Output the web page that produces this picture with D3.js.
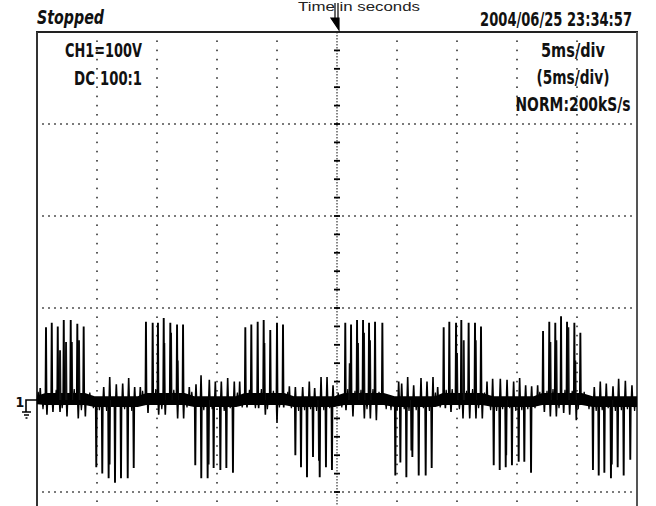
<!DOCTYPE html>
<html lang="en">
<head>
<meta charset="UTF-8">
<title>Scope capture</title>
<script src="https://d3js.org/d3.v7.min.js"></script>
<style>
    body { margin: 0; background: #fff; }
    .scope { font-family: "DejaVu Sans Condensed", "Liberation Sans Narrow", sans-serif; font-weight: bold; fill: #111; }
    .title { font-family: "Liberation Sans", Arial, sans-serif; fill: #222; }
</style>
</head>
<body>
<svg id="scope"></svg>
<script>
    const width = 656;
    const height = 506;

    // screen texts
    const headerLeft = "Stopped";
    const headerRight = "2004/06/25 23:34:57";
    const axisTitle = "Time in seconds";
    const leftInfo = ["CH1=100V", "DC", "100:1"];
    const rightInfo = ["5ms/div", "(5ms/div)", "NORM:200kS/s"];

    // grid divisions (ms across, volts down)
    const timeDivs = [-20, -15, -10, -5, 5, 10, 15, 20];
    const voltDivs = [300, 200, 100, -100];

    // big positive spikes (ms, V)
    const posT = [-24.25, -23.77, -23.27, -22.77, -22.19, -21.64, -21.11,
        -15.92, -15.36, -14.92, -14.44, -13.89, -13.33, -12.83,
        -7.64, -7.14, -6.61, -6.11, -5.56, -5.0, -4.5,
        0.69, 1.17, 1.67, 2.17, 2.67, 3.17, 3.78,
        8.89, 9.36, 9.92, 10.36, 10.97, 11.5, 12.0,
        17.17, 17.69, 18.19, 18.67, 19.17, 19.78, 20.28];
    const posV = [79, 84, 80, 87, 87, 83, 80,
        85, 84, 84, 89, 84, 82, 82,
        79, 82, 85, 87, 76, 84, 82,
        84, 82, 87, 87, 84, 85, 84,
        79, 85, 84, 87, 84, 84, 80,
        75, 85, 84, 91, 85, 84, 73];

    // big negative spikes
    const negT = [-20.06, -19.56, -19.03, -18.5, -18.0, -17.44, -16.94,
        -11.81, -11.31, -10.78, -10.28, -9.72, -9.22, -8.67,
        -3.47, -3.0, -2.5, -2.0, -1.44, -0.92, -0.42,
        4.86, 5.28, 5.78, 6.28, 6.81, 7.39, 7.89,
        13.06, 13.56, 14.06, 14.58, 15.14, 15.61, 16.17,
        21.33, 21.81, 22.28, 22.83, 23.39, 23.89, 24.44];
    const negV = [-73, -80, -85, -90, -85, -85, -74,
        -71, -85, -85, -74, -76, -74, -79,
        -60, -73, -84, -62, -84, -73, -76,
        -82, -68, -84, -62, -82, -82, -74,
        -71, -76, -73, -71, -67, -67, -79,
        -76, -82, -79, -85, -73, -82, -65];

    // partial (doubled) spikes next to the big ones
    const echoT = [-23.08, -22.58, -22.1, -21.5, -14.39, -13.83, -13.28, -6.05,
        1.06, 1.75, 2.25, 2.75, 10.0, 10.56, 11.56, 17.78, 18.28, 19.28, 19.86,
        -18.95, -10.7, -1.5, 6.2, 14.1, 22.9];
    const echoV = [54, 63, 63, 65, 62, 73, 43, 62,
        40, 62, 73, 65, 51, 65, 65, 63, 65, 79, 43,
        -70, -70, -66, -55, -60, -70];

    // small counter spikes
    const smallT = [-24.17, -23.67, -23.08, -22.5, -21.56, -20.97,
        -15.75, -14.86, -14.31, -13.28, -12.78,
        -7.5, -6.53, -5.97, -5.0, -4.44,
        0.75, 1.33, 2.28, 2.78, 3.28,
        9.03, 9.5, 10.5, 11.06, 11.58, 12.11,
        17.28, 17.78, 18.28, 18.89, 19.39, 19.94,
        -24.73,
        -19.44, -18.94, -18.39, -17.86, -17.36, -16.86, -16.39,
        -12.31, -11.75, -11.33, -10.64, -10.14, -9.64, -9.11, -8.56, -8.11,
        -3.97, -3.47, -2.86, -2.31, -1.86, -1.33, -0.83, -0.33,
        5.14, 5.39, 5.89, 6.39, 7.0, 7.5, 8.0, 8.39,
        12.5, 12.97, 13.61, 14.17, 14.72, 15.22, 15.72, 16.22, 16.72,
        21.44, 21.94, 22.44, 23.0, 23.47, 24.03, 24.58];
    const smallV = [-16, -13, -13, -18, -20, -18,
        -14, -16, -16, -20, -20,
        -8, -9, -16, -25, -8,
        -11, -18, -20, -20, -22,
        -9, -13, -20, -20, -20, -20,
        -13, -18, -18, -14, -16, -22,
        13,
        14, 25, 17, 18, 24, 14, 14,
        14, 17, 27, 22, 20, 20, 24, 20, 20,
        15, 14, 14, 20, 13, 25, 25, 16,
        20, 18, 25, 16, 24, 20, 25, 14,
        20, 23, 23, 22, 20, 24, 16, 15, 16,
        14, 20, 18, 15, 23, 21, 16];

    // tiny hairs on the noise band
    const fuzzT = [-24.9, -24.5, -23.4, -22.9, -21.9, -21.3, -20.6, -20.3, -19.8, -19.2, -17.7, -17.1,
        -16.2, -15.1, -14.6, -13.6, -12.5, -12.1, -11.1, -10.4, -9.4, -8.9, -8.3, -7.9,
        -7.3, -6.8, -6.3, -5.8, -5.3, -4.8, -4.1, -3.8, -3.2, -2.7, -2.2, -1.7, -1.1, -0.6,
        0.1, 0.4, 0.9, 1.5, 2.0, 2.5, 3.0, 3.5, 4.1, 4.5, 5.0, 5.6, 6.0, 6.6, 7.2, 7.7, 8.2, 8.6,
        9.1, 9.6, 10.2, 10.8, 11.3, 11.8, 12.3, 12.8, 13.3, 13.8, 14.4, 14.9, 15.4, 15.9, 16.5, 16.9,
        17.5, 18.0, 18.5, 19.0, 19.6, 20.1, 20.6, 21.0, 21.6, 22.1, 22.6, 23.2, 23.7, 24.2, 24.8];
    const fuzzV = [9, -10, 11, -9, 12, -11, 8, -9, -11, -12, -10, -12,
        10, 12, -10, 11, -8, 9, -11, -10, -12, -9, 8, -8,
        11, -9, 12, -10, 10, -8, 9, -9, -12, -11, -10, -12, -11, -9,
        8, -8, 12, 10, 11, -10, 12, 9, -10, -11, -12, -10, -12, -11, -9, -12, 8, -8,
        11, 12, -10, 10, 12, -9, 8, -11, -12, -10, -9, -12, -11, -10, -9, 9,
        10, 12, -9, 11, 10, -10, 9, -10, -12, -11, -9, -12, -11, -10, -12];

    // thick noise band around ground
    const bandT = [-25, -24.3, -21, -20.2, -16.6, -15.9, -12.7, -11.9, -8.4, -7.7, -4.4, -3.6,
        -0.2, 0.6, 3.9, 4.8, 8.2, 8.8, 12.1, 13.0, 16.4, 17.1, 20.4, 21.3, 24.7, 25];
    const bandHi = [4.5, 7.5, 7.5, 4, 4, 7.5, 7.5, 4, 4, 7.5, 7.5, 4, 4, 7.5, 7.5, 4, 4, 7.5, 7.5, 4, 4, 7.5, 7.5, 4, 4, 4];
    const bandLo = [-4.5, -5.5, -5.5, -7.5, -7.5, -5.5, -5.5, -7.5, -7.5, -5.5, -5.5, -7.5, -7.5, -5.5, -5.5, -7.5, -7.5, -5.5, -5.5, -7.5, -7.5, -5.5, -5.5, -7.5, -7.5, -7.5];

    const svg = d3.select("#scope")
        .attr("width", width)
        .attr("height", height)
        .style("display", "block");

    const x = d3.scaleLinear().domain([-25, 25]).range([37, 637]);
    const y = d3.scaleLinear().domain([-400, 400]).range([768, 32]);

    const grid = svg.append("g");

    // dotted vertical division lines
    const vMinor = d3.range(-110, 400, 10).filter(v => v % 100 !== 0);
    timeDivs.forEach(function (t) {
        grid.selectAll(null)
            .data(vMinor)
            .enter()
            .append("rect")
            .attr("x", x(t) - 0.8)
            .attr("y", d => y(d) - 0.8)
            .attr("width", 1.6)
            .attr("height", 1.6)
            .attr("fill", "#333");
    });

    // dotted horizontal division lines
    const tMinor = d3.range(-24.5, 25, 0.5);
    voltDivs.forEach(function (v) {
        grid.selectAll(null)
            .data(tMinor)
            .enter()
            .append("rect")
            .attr("x", d => x(d) - 0.8)
            .attr("y", y(v) - 0.8)
            .attr("width", 1.6)
            .attr("height", 1.6)
            .attr("fill", "#333");
    });

    // centre axes with ticks
    grid.append("line")
        .attr("x1", x(0)).attr("x2", x(0))
        .attr("y1", y(400)).attr("y2", height)
        .attr("stroke", "#444")
        .attr("stroke-width", 1.3)
        .attr("stroke-dasharray", "1.5 1.5");
    grid.selectAll(".vtick")
        .data(d3.range(-120, 400, 20))
        .enter()
        .append("line")
        .attr("x1", x(0) - 3).attr("x2", x(0) + 3)
        .attr("y1", d => y(d)).attr("y2", d => y(d))
        .attr("stroke", "#000")
        .attr("stroke-width", 1.8);
    grid.append("line")
        .attr("x1", x(-25)).attr("x2", x(25))
        .attr("y1", y(0)).attr("y2", y(0))
        .attr("stroke", "#444")
        .attr("stroke-width", 1.3)
        .attr("stroke-dasharray", "1.5 1.5");

    // frame
    grid.append("line")
        .attr("x1", x(-25) - 1).attr("x2", x(25) + 1)
        .attr("y1", y(400)).attr("y2", y(400))
        .attr("stroke", "#222").attr("stroke-width", 2);
    grid.append("line")
        .attr("x1", x(-25)).attr("x2", x(-25))
        .attr("y1", y(400)).attr("y2", height)
        .attr("stroke", "#333").attr("stroke-width", 2);
    grid.append("line")
        .attr("x1", x(25)).attr("x2", x(25))
        .attr("y1", y(400)).attr("y2", height)
        .attr("stroke", "#555").attr("stroke-width", 2);

    // trace
    const trace = svg.append("g");

    const band = d3.area()
        .x((d, i) => x(bandT[i]))
        .y0((d, i) => y(bandLo[i]))
        .y1((d, i) => y(bandHi[i]));
    trace.append("path")
        .attr("d", band(bandT))
        .attr("fill", "#000");

    const spikeLine = d3.line();
    function spike(t, v, half) {
        return spikeLine([[x(t - half), y(0)], [x(t), y(v)], [x(t + half), y(0)]]);
    }

    trace.selectAll(".fuzz")
        .data(fuzzT)
        .enter()
        .append("path")
        .attr("d", (d, i) => spike(d, fuzzV[i], 0.08))
        .attr("fill", "none")
        .attr("stroke", "#000")
        .attr("stroke-width", 1.2);

    trace.selectAll(".small")
        .data(smallT)
        .enter()
        .append("path")
        .attr("d", (d, i) => spike(d, smallV[i], 0.05))
        .attr("fill", "none")
        .attr("stroke", "#000")
        .attr("stroke-width", 1.6);

    trace.selectAll(".echo")
        .data(echoT)
        .enter()
        .append("path")
        .attr("d", (d, i) => spike(d, echoV[i], 0.04))
        .attr("fill", "none")
        .attr("stroke", "#111")
        .attr("stroke-width", 1.9);

    trace.selectAll(".pos")
        .data(posT)
        .enter()
        .append("path")
        .attr("d", (d, i) => spike(d, posV[i], 0.04))
        .attr("fill", "none")
        .attr("stroke", "#000")
        .attr("stroke-width", 1.9);

    trace.selectAll(".neg")
        .data(negT)
        .enter()
        .append("path")
        .attr("d", (d, i) => spike(d, negV[i], 0.04))
        .attr("fill", "none")
        .attr("stroke", "#000")
        .attr("stroke-width", 1.9);

    // ground marker
    const gy = y(0);
    svg.append("text")
        .attr("class", "scope")
        .attr("x", 20).attr("y", gy + 7)
        .attr("text-anchor", "middle")
        .attr("font-size", 14)
        .text("1");
    svg.append("path")
        .attr("d", `M37,${gy} H26 V${gy + 12} M22,${gy + 12} H31 M24,${gy + 15} H29 M25.5,${gy + 18} H27.5`)
        .attr("fill", "none")
        .attr("stroke", "#000")
        .attr("stroke-width", 1.6);

    // squeeze a label horizontally to the width seen on the screen
    function fitText(cls, str, px, py, size, w, anchor, italic) {
        const t = svg.append("text")
            .attr("class", cls)
            .attr("font-size", size)
            .attr("text-anchor", anchor)
            .text(str);
        if (italic) t.attr("font-style", "italic");
        const k = w / t.node().getComputedTextLength();
        t.attr("transform", `translate(${px},${py}) scale(${k},1)`);
        return t;
    }

    // trigger marker and title (kept fully inside the page)
    fitText("title", axisTitle, 359, 11, 13.5, 122, "middle");
    svg.append("path")
        .attr("d", `M${x(0) - 2},3 V18 M${x(0) + 1},3 V18 M${x(0) - 6},18 H${x(0) + 2} V30 Z`)
        .attr("fill", "#000")
        .attr("stroke", "#000")
        .attr("stroke-width", 1.2);

    // header
    fitText("scope", headerLeft, 37, 24, 19.5, 67, "start", true);
    fitText("scope", headerRight, 632, 26, 19.5, 152, "end");

    // channel info
    const infoSize = 20;
    fitText("scope", leftInfo[0], 142, 57, infoSize, 77, "end");
    fitText("scope", leftInfo[1], 95, 85, infoSize, 21, "end");
    fitText("scope", leftInfo[2], 142, 85, infoSize, 42, "end");

    const rightLen = [64, 73, 115];
    rightInfo.forEach(function (s, i) {
        fitText("scope", s, 573, 57 + i * 27, infoSize, rightLen[i], "middle");
    });
</script>
</body>
</html>
